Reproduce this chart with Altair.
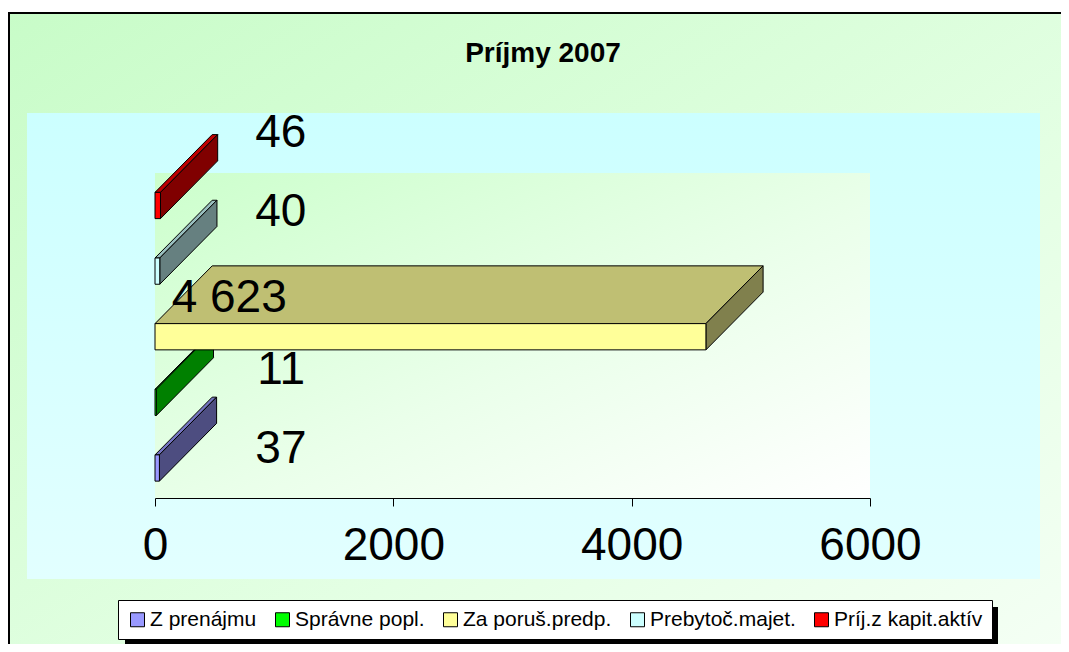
import altair as alt
import pandas as pd

# ---- data ----
categories = ["Z prenájmu", "Správne popl.", "Za poruš.predp.", "Prebytoč.majet.", "Príj.z kapit.aktív"]
values = [37, 11, 4623, 40, 46]
value_labels = ["37", "11", "4 623", "40", "46"]
x_ticks = [0, 2000, 4000, 6000]
title_text = "Príjmy 2007"

# ---- styles ----
front_colors = ["#9999ff", "#00ff00", "#ffff99", "#ccffff", "#ff0000"]
top_colors = ["#7373bf", "#00bf00", "#bfbf73", "#99bfbf", "#bf0000"]
side_colors = ["#4d4d80", "#008000", "#80804d", "#668080", "#800000"]
FONT = "Liberation Sans"
HALF = 0.2          # half bar thickness (y units)
DX = 480            # 3D depth along x (data units)
DY = 0.88           # 3D depth along y (y units)
Y_DOMAIN = [-0.457, 4.495]
W, H = 715, 325

# ---- tables built from the arrays ----
front_df = pd.DataFrame({
    "cat": categories,
    "x0": [0] * len(values),
    "x1": values,
    "y0": [i - HALF for i in range(len(values))],
    "y1": [i + HALF for i in range(len(values))],
})

face_rows = []
for i, (c, v) in enumerate(zip(categories, values)):
    top = [(0, i + HALF), (v, i + HALF), (v + DX, i + HALF + DY), (DX, i + HALF + DY), (0, i + HALF)]
    side = [(v, i - HALF), (v + DX, i - HALF + DY), (v + DX, i + HALF + DY), (v, i + HALF), (v, i - HALF)]
    for k, (px, py) in enumerate(top):
        face_rows.append({"face": f"{i}-top", "px": px, "py": py, "o": k, "col": top_colors[i]})
    for k, (px, py) in enumerate(side):
        face_rows.append({"face": f"{i}-side", "px": px, "py": py, "o": k, "col": side_colors[i]})
face_df = pd.DataFrame(face_rows)

# data-label anchor (Excel 3D label placement, approximated)
label_df = pd.DataFrame({
    "cat": categories,
    "txt": value_labels,
    "lx": [1060 - 0.0946 * v for v in values],
    "ly": [0.287 + 1.203 * i - 0.0000223 * v for i, v in enumerate(values)],
})

xscale = alt.Scale(domain=[0, 6000], nice=False, zero=False)
yscale = alt.Scale(domain=Y_DOMAIN, nice=False, zero=False)
xaxis = alt.Axis(values=x_ticks, format="d", title=None, grid=False,
                 labelFont=FONT, labelFontSize=46, labelColor="black",
                 domainColor="black", tickColor="black", tickSize=8,
                 labelPadding=17, zindex=1, labelFlush=False)

one = alt.Data(values=[{}])


def grad(stops, x2=1, y2=1):
    return alt.Gradient(gradient="linear", x1=0, y1=0, x2=x2, y2=y2,
                        stops=[alt.GradientStop(color=c, offset=o) for c, o in stops])


chart_bg = alt.Chart(one).mark_rect(
    fill=grad([("#c8fcc8", 0), ("#e4ffe4", 0.6), ("#f6fff6", 1)]),
    stroke="black", strokeWidth=2,
).encode(x=alt.value(-146), x2=alt.value(925), y=alt.value(-160), y2=alt.value(520))

plot_bg = alt.Chart(one).mark_rect(
    fill=grad([("#ccffff", 0), ("#e2ffff", 1)], x2=0, y2=1),
).encode(x=alt.value(-128), x2=alt.value(885), y=alt.value(-60), y2=alt.value(406))

wall = alt.Chart(one).mark_rect(
    fill=grad([("#ccffcc", 0), ("#eaffea", 0.55), ("#ffffff", 1)]),
).encode(x=alt.value(0), x2=alt.value(W), y=alt.value(0), y2=alt.value(H))

shadow = alt.Chart(one).mark_rect(fill="black").encode(
    x=alt.value(-30), x2=alt.value(843), y=alt.value(434), y2=alt.value(473))

title = alt.Chart(one).mark_text(
    text=title_text, font=FONT, fontSize=28, fontWeight="bold", color="black",
    align="center", baseline="alphabetic",
).encode(x=alt.value(388), y=alt.value(-111))

faces = alt.Chart(face_df).mark_line(filled=True, stroke="black", strokeWidth=1,
                                     strokeJoin="miter", opacity=1).encode(
    x=alt.X("px:Q", scale=xscale, axis=xaxis),
    y=alt.Y("py:Q", scale=yscale, axis=None),
    detail="face:N",
    order="o:Q",
    color=alt.Color("col:N", scale=None),
)

fronts = alt.Chart(front_df).mark_rect(stroke="black", strokeWidth=1, opacity=1).encode(
    x=alt.X("x0:Q", scale=xscale, axis=xaxis),
    x2="x1:Q",
    y=alt.Y("y0:Q", scale=yscale, axis=None),
    y2="y1:Q",
    color=alt.Color("cat:N", scale=alt.Scale(domain=categories, range=front_colors),
                    legend=alt.Legend(
                        title=None, orient="none", legendX=-37, legendY=427,
                        direction="horizontal", columns=5,
                        symbolType="square", symbolSize=196, symbolStrokeColor="black",
                        symbolStrokeWidth=1, symbolOpacity=1,
                        labelFont=FONT, labelFontSize=21, labelColor="black",
                        labelOffset=2, columnPadding=15, padding=9,
                        fillColor="white", strokeColor="black",
                        labelLimit=300,
                    )),
)

labels = alt.Chart(label_df).mark_text(font=FONT, fontSize=46, color="black",
                                       align="center", baseline="middle").encode(
    x=alt.X("lx:Q", scale=xscale, axis=xaxis),
    y=alt.Y("ly:Q", scale=yscale, axis=None),
    text="txt:N",
)

chart = alt.layer(chart_bg, plot_bg, wall, shadow, title, faces, fronts, labels).properties(
    width=W, height=H,
    padding={"left": 147, "top": 165, "right": 191, "bottom": 146},
    autosize=alt.AutoSizeParams(type="none"),
).resolve_scale(color="independent").configure_view(stroke=None, fill=None).configure(background="white")

chart.save("out.html", embed_options={"renderer": "svg", "actions": False})
